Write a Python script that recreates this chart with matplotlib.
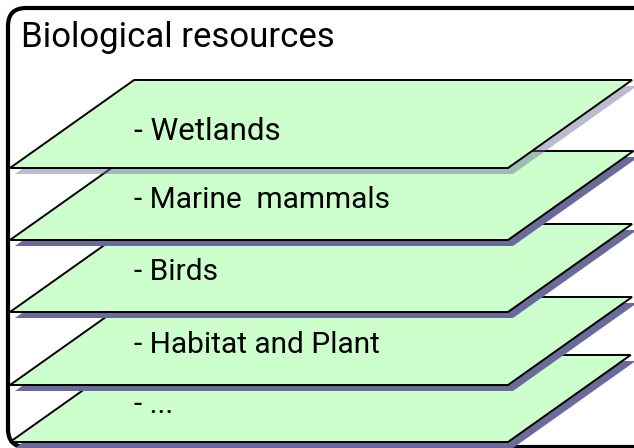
import matplotlib
matplotlib.use('Agg')
from matplotlib import pyplot as plt
from matplotlib.patches import Polygon, FancyBboxPatch

title = 'Biological resources'
layers = ['- Wetlands', '- Marine  mammals', '- Birds', '- Habitat and Plant', '- ...']
tops = [80, 151, 224, 297, 355]
bottoms = [168, 240, 312, 385, 442]
baselines = [140, 208, 280, 353, 413]

fill = '#ccffcc'
shade = '#6b6b9b'
font = ['Roboto', 'DejaVu Sans']

fig = plt.figure(figsize=(6.34, 4.48), dpi=100)
ax = fig.add_axes([0, 0, 1, 1])
ax.set_xlim(0, 634)
ax.set_ylim(448, 0)
ax.axis('off')

# outer rounded frame
frame = FancyBboxPatch((8, 8), 660, 439, boxstyle='round,pad=0,rounding_size=18',
                       fc='white', ec='black', lw=3, zorder=1)
ax.add_patch(frame)

# layers, drawn bottom first so the upper one covers the lower one
x0, x1, slope = 10, 508, 1.41
for i in reversed(range(len(layers))):
    t, b = tops[i], bottoms[i]
    dx = (b - t) * slope
    pts = [(x0, b), (x1, b), (x1 + dx, t), (x0 + dx, t)]
    sh = [(x + 5, y + 6) for x, y in pts]
    alpha = 0.45 if i == 0 else 1.0
    ax.add_patch(Polygon(sh, closed=True, fc=shade, ec='none', alpha=alpha, zorder=2 + 2 * (5 - i)))
    ax.add_patch(Polygon(pts, closed=True, fc=fill, ec='black', lw=1.4, zorder=3 + 2 * (5 - i)))
    fs = 22.5 if i == 0 else 21.5
    ax.text(134, baselines[i], layers[i], fontsize=fs, family=font, va='baseline', ha='left',
            zorder=3 + 2 * (5 - i))

ax.text(21, 47, title, fontsize=25, family=font, va='baseline', ha='left', zorder=20)

fig.savefig('out.png', dpi=100)
